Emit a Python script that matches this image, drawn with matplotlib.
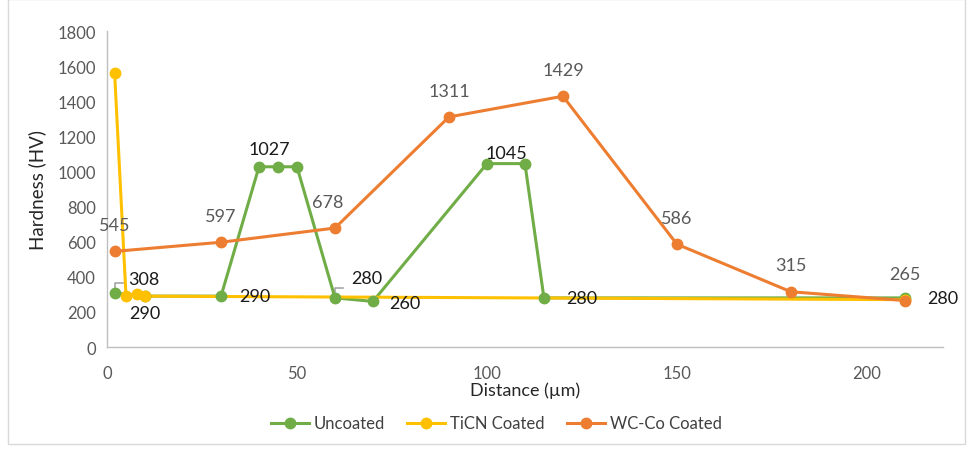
import matplotlib
matplotlib.use("Agg")
from matplotlib import pyplot as plt
from matplotlib.patches import Rectangle

plt.rcParams['font.family'] = ['Lato', 'DejaVu Sans']

# data
unc_x = [2, 10, 30, 40, 45, 50, 60, 70, 100, 110, 115, 210]
unc_y = [308, 290, 290, 1027, 1027, 1027, 280, 260, 1045, 1045, 280, 280]
ticn_x = [2, 5, 8, 10, 210]
ticn_y = [1560, 290, 300, 290, 270]
wc_x = [2, 30, 60, 90, 120, 150, 180, 210]
wc_y = [545, 597, 678, 1311, 1429, 586, 315, 265]

GREEN = '#70AD47'
YELLOW = '#FFC000'
ORANGE = '#ED7D31'

fig = plt.figure(figsize=(9.73, 4.52), dpi=100)
fig.patches.append(Rectangle((0.008, 0.015), 0.984, 0.985, transform=fig.transFigure,
                             fill=False, edgecolor='#d9d9d9', lw=1))
ax = fig.add_axes([0.110, 0.230, 0.859, 0.699])

series = [(unc_x, unc_y, GREEN, 'Uncoated'),
          (ticn_x, ticn_y, YELLOW, 'TiCN Coated'),
          (wc_x, wc_y, ORANGE, 'WC-Co Coated')]
handles = []
for x, y, c, name in series:
    ax.plot(x, y, color=c, lw=2.2, zorder=2)
for x, y, c, name in series:
    ax.plot(x, y, color=c, marker='o', ms=7.5, linestyle='none', zorder=3)
    handles.append(plt.Line2D([], [], color=c, lw=2.2, marker='o', ms=7.5, label=name))

ax.set_xlim(0, 220)
ax.set_ylim(0, 1800)
ax.set_xticks([0, 50, 100, 150, 200])
ax.set_yticks(range(0, 1801, 200))
for s in ['top', 'right']:
    ax.spines[s].set_visible(False)
for s in ['left', 'bottom']:
    ax.spines[s].set_color('#bfbfbf')
    ax.spines[s].set_linewidth(1)
ax.tick_params(length=0, labelsize=12, colors='#595959', pad=8)
ax.tick_params(axis='x', pad=13)
ax.set_xlabel('Distance (µm)', fontsize=13, color='#262626', labelpad=0)
ax.set_ylabel('Hardness (HV)', fontsize=13.5, color='#262626', labelpad=8)

# data labels
lab = dict(fontsize=13, ha='center', va='center', textcoords='offset points')
# WC-Co (grey labels above)
for x, y in zip(wc_x, wc_y):
    dx = -5 if x == 60 else 0
    ax.annotate(str(y), (x, y), xytext=(dx, 19), color='#595959', **lab)
# Uncoated (dark labels)
unc_labels = [(2, 308, (21, 10)), (10, 290, (0, -12)), (30, 290, (24, 0)),
              (45, 1027, (-6, 13)), (60, 280, (23, 14)), (70, 260, (23, -1)),
              (105, 1045, (0, 8)), (115, 280, (27, 0)), (210, 280, (27, 0))]
for x, y, off in unc_labels:
    ax.annotate(str(y), (x, y), xytext=off, color='#1a1a1a', **lab)
# leader lines
for x, y in [(2, 308), (60, 280)]:
    ax.plot([x, x, x + 2.2], [y, y + 55, y + 55], color='#a6a6a6', lw=1.2, zorder=1.5)

fig.legend(handles=handles, loc='lower center', ncol=3, frameon=False, fontsize=12,
           bbox_to_anchor=(0.51, 0.01), handlelength=2.3, handletextpad=0.3,
           columnspacing=1.3, labelcolor='#404040')

fig.savefig('out.png', dpi=100)
